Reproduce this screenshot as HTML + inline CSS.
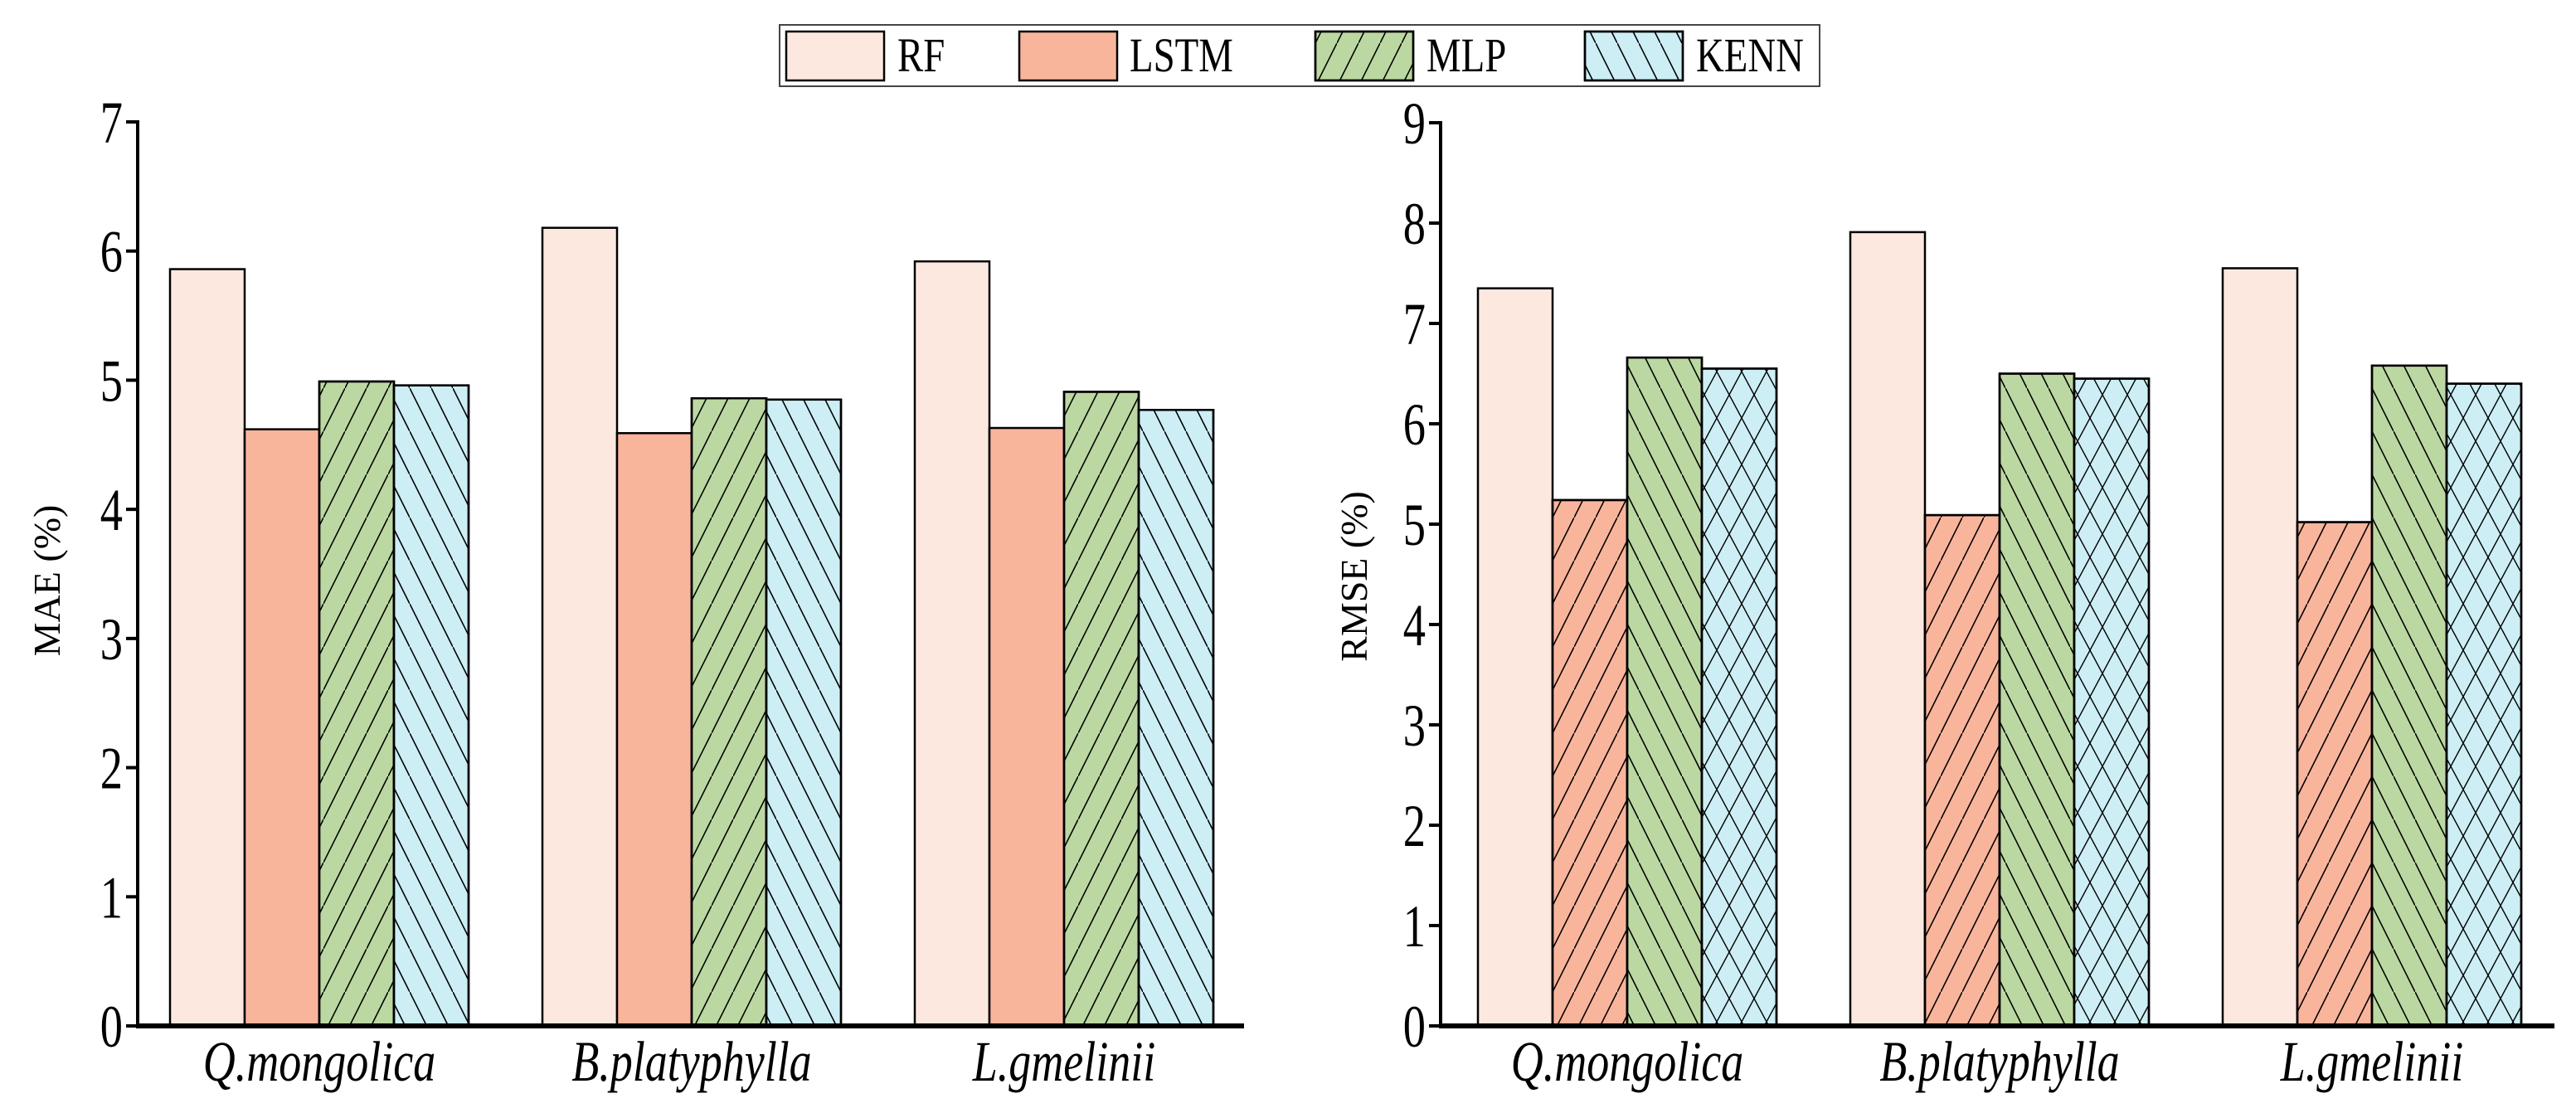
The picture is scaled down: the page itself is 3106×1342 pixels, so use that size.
<!DOCTYPE html>
<html><head><meta charset="utf-8"><style>
html,body{margin:0;padding:0;background:#fff;}
svg{display:block;font-family:"Liberation Serif",serif;}
</style></head><body>
<svg id="chart" width="3106" height="1342" viewBox="0 0 3106 1342" xmlns="http://www.w3.org/2000/svg">
<defs>
<pattern id="fwd" patternUnits="userSpaceOnUse" width="26" height="52"><line x1="0" y1="52" x2="26" y2="0" stroke="#000" stroke-width="1.6"/></pattern>
<pattern id="bwd" patternUnits="userSpaceOnUse" width="26" height="52"><line x1="0" y1="0" x2="26" y2="52" stroke="#000" stroke-width="1.6"/></pattern>
<pattern id="cross" patternUnits="userSpaceOnUse" width="30" height="56"><line x1="0" y1="0" x2="30" y2="56" stroke="#000" stroke-width="1.4"/><line x1="0" y1="56" x2="30" y2="0" stroke="#000" stroke-width="1.4"/></pattern>
</defs>
<g id="legend">
<rect x="940" y="30" width="1254" height="74" fill="#fff" stroke="#444" stroke-width="2"/>
</g>
<g id="left"></g>
<g id="right"></g>
</svg>
<script>
const categories = ["Q.mongolica", "B.platyphylla", "L.gmelinii"];
const seriesNames = ["RF", "LSTM", "MLP", "KENN"];
const maeRF = [5.86, 6.18, 5.92];
const maeLSTM = [4.62, 4.59, 4.63];
const maeMLP = [4.99, 4.86, 4.91];
const maeKENN = [4.96, 4.85, 4.77];
const rmseRF = [7.35, 7.91, 7.55];
const rmseLSTM = [5.24, 5.09, 5.02];
const rmseMLP = [6.66, 6.50, 6.58];
const rmseKENN = [6.55, 6.45, 6.40];
const maeTicks = [0, 1, 2, 3, 4, 5, 6, 7];
const rmseTicks = [0, 1, 2, 3, 4, 5, 6, 7, 8, 9];

const NS = "http://www.w3.org/2000/svg";
const colors = ["#fde8e0", "#f9b59c", "#bcd8a2", "#cdeef5"];
function mk(tag, attrs, parent, text) {
  const e = document.createElementNS(NS, tag);
  for (const k in attrs) e.setAttribute(k, attrs[k]);
  if (text !== undefined) e.textContent = text;
  parent.appendChild(e);
  return e;
}

function drawChart(g, cfg) {
  const y = v => cfg.y0 - v / cfg.max * (cfg.y0 - cfg.yTop);
  const x = (ci, si) => cfg.start + ci * cfg.groupStep + si * cfg.barW;
  cfg.series.forEach((vals, si) => {
    vals.forEach((v, ci) => {
      const top = y(v);
      const r = mk("rect", {x: x(ci, si), y: top, width: cfg.barW, height: cfg.y0 - top, fill: colors[si], stroke: "#000", "stroke-width": 2.5}, g);
      
      
      if (cfg.patterns[si]) {
        const p = mk("rect", {x: x(ci, si), y: top, width: cfg.barW, height: cfg.y0 - top, fill: "url(#" + cfg.patterns[si] + ")", stroke: "#000", "stroke-width": 2.5}, g);
        
        
      }
    });
  });
  const ax = mk("line", {x1: cfg.axisX, y1: cfg.yTop - 2, x2: cfg.axisX, y2: cfg.y0, stroke: "#000", "stroke-width": 4}, g);
  
  
  const xa = mk("line", {x1: cfg.axisX - 2, y1: cfg.y0, x2: cfg.axisEnd, y2: cfg.y0, stroke: "#000", "stroke-width": 6}, g);
  
  
  cfg.ticks.forEach(t => {
    const ty = y(t);
    const tl = mk("line", {x1: cfg.axisX - 14, y1: ty, x2: cfg.axisX, y2: ty, stroke: "#000", "stroke-width": 4}, g);
    
    
    const tx = mk("text", {x: 0, y: 0, "font-size": 64, "text-anchor": "end", transform: "translate(" + (cfg.axisX - 18) + "," + (ty + 25) + ") scale(0.85,1.12)"}, g, String(t));
    
    
  });
  categories.forEach((c, ci) => {
    const cx = x(ci, 2);
    const tx = mk("text", {x: 0, y: 0, "font-size": 60, "font-style": "italic", "text-anchor": "middle", transform: "translate(" + cx + ",1303) scale(0.9,1.15)"}, g, c);
    
    
  });
  const tt = mk("text", {x: 0, y: 0, "font-size": 46, "text-anchor": "middle", transform: "translate(" + cfg.titleX + "," + cfg.titleY + ") rotate(-90)"}, g, cfg.title);
  
  
}

drawChart(document.getElementById("left"), {
  key: "mae", series: [maeRF, maeLSTM, maeMLP, maeKENN], ticks: maeTicks, max: 7,
  y0: 1237, yTop: 147, start: 205, groupStep: 449, barW: 90, axisX: 166, axisEnd: 1500,
  patterns: [null, null, "fwd", "bwd"], title: "MAE (%)", titleX: 72, titleY: 700
});
drawChart(document.getElementById("right"), {
  key: "rmse", series: [rmseRF, rmseLSTM, rmseMLP, rmseKENN], ticks: rmseTicks, max: 9,
  y0: 1237, yTop: 148, start: 1782, groupStep: 449, barW: 90, axisX: 1737, axisEnd: 3080,
  patterns: [null, "fwd", "bwd", "cross"], title: "RMSE (%)", titleX: 1648, titleY: 695
});

const lg = document.getElementById("legend");
const swX = [948, 1229, 1586, 1911];
const txX = [1082, 1362, 1720, 2045];
const legPat = [null, null, "fwd", "bwd"];
seriesNames.forEach((n, i) => {
  const s = mk("rect", {x: swX[i], y: 38, width: 118, height: 59, fill: colors[i], stroke: "#000", "stroke-width": 2.5}, lg);
  
  
  if (legPat[i]) {
    const p = mk("rect", {x: swX[i], y: 38, width: 118, height: 59, fill: "url(#" + legPat[i] + ")", stroke: "#000", "stroke-width": 2.5}, lg);
    
    
  }
  const t = mk("text", {x: 0, y: 0, "font-size": 52, transform: "translate(" + txX[i] + ",86) scale(0.9,1.12)"}, lg, n);
  
  
});
</script>
</body></html>
